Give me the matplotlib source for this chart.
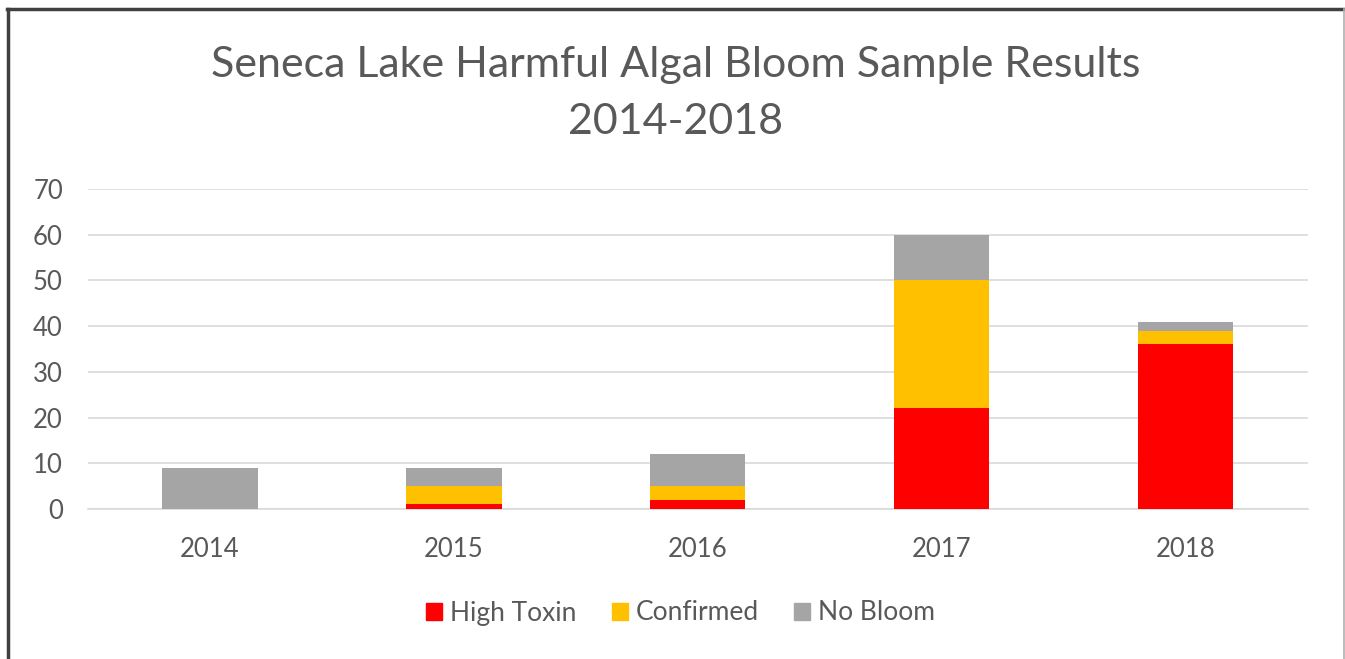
import matplotlib.pyplot as plt
from matplotlib.lines import Line2D
from matplotlib.patches import Patch

plt.rcParams['font.family'] = ['Lato', 'DejaVu Sans']

years = ['2014', '2015', '2016', '2017', '2018']
high_toxin = [0, 1, 2, 22, 36]
confirmed = [0, 4, 3, 28, 3]
no_bloom = [9, 4, 7, 10, 2]

fig = plt.figure(figsize=(13.45, 6.59), dpi=100)
ax = fig.add_axes([0.0654, 0.2276, 0.907, 0.4856])

x = range(len(years))
bottom2 = [a + b for a, b in zip(high_toxin, confirmed)]
ax.bar(x, high_toxin, width=0.39, color='#ff0000', zorder=3)
ax.bar(x, confirmed, width=0.39, bottom=high_toxin, color='#ffc000', zorder=3)
ax.bar(x, no_bloom, width=0.39, bottom=bottom2, color='#a5a5a5', zorder=3)

ax.set_xlim(-0.5, 4.5)
ax.set_ylim(0, 70)
ax.set_yticks(range(0, 71, 10))
ax.set_xticks(list(x))
ax.set_xticklabels(years)
ax.grid(axis='y', color='#d9d9d9', linewidth=1.2, zorder=0)
for s in ['top', 'right', 'left']:
    ax.spines[s].set_visible(False)
ax.spines['bottom'].set_color('#d9d9d9')
ax.spines['bottom'].set_linewidth(1.2)
ax.tick_params(axis='both', length=0, labelsize=18.5, labelcolor='#595959')
ax.tick_params(axis='y', pad=18)
ax.tick_params(axis='x', pad=20)

fig.text(0.502, 1 - 65 / 659, 'Seneca Lake Harmful Algal Bloom Sample Results',
         ha='center', va='center', fontsize=31, color='#595959')
fig.text(0.502, 1 - 122 / 659, '2014-2018',
         ha='center', va='center', fontsize=31, color='#595959')

handles = [Patch(color='#ff0000', label='High Toxin'),
           Patch(color='#ffc000', label='Confirmed'),
           Patch(color='#a5a5a5', label='No Bloom')]
fig.legend(handles=handles, loc='center', bbox_to_anchor=(0.506, 1 - 613 / 659), ncol=3,
           frameon=False, fontsize=19, labelcolor='#595959', handlelength=0.6,
           handleheight=0.6, handletextpad=0.3, columnspacing=1.35)

# outer frame
fig.add_artist(Line2D([7 / 1345, 1], [1 - 8.5 / 659] * 2, color='#404040', lw=2.5))
fig.add_artist(Line2D([8 / 1345] * 2, [0, 1 - 8.5 / 659], color='#404040', lw=2.5))
fig.add_artist(Line2D([1343.5 / 1345] * 2, [0, 1 - 8.5 / 659], color='#b0b0b0', lw=1.2))

fig.savefig('out.png', dpi=100, facecolor='white')
